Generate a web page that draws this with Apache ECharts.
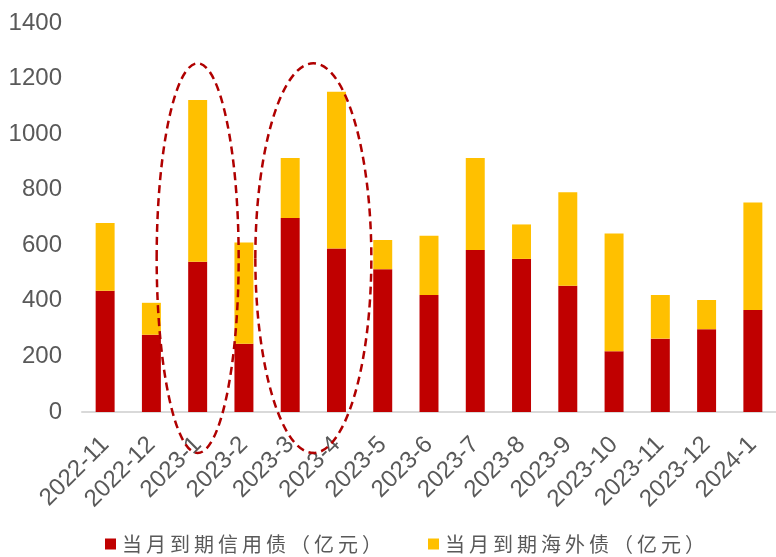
<!DOCTYPE html>
<html>
<head>
<meta charset="utf-8">
<script src="https://cdn.jsdelivr.net/npm/echarts@6/dist/echarts.min.js"></script>
<style>
  html, body { margin: 0; padding: 0; background: #ffffff; }
  #chart { width: 776px; height: 557px; }
</style>
</head>
<body>
<div id="chart"></div>
<script>
// Monthly maturities (100 million yuan)
const months = ['2022-11', '2022-12', '2023-1', '2023-2', '2023-3', '2023-4', '2023-5', '2023-6',
                '2023-7', '2023-8', '2023-9', '2023-10', '2023-11', '2023-12', '2024-1'];
const creditBonds   = [436, 278, 541, 246, 698, 588, 514, 421, 583, 551, 454, 219, 264, 298, 367];
const offshoreBonds = [244, 115, 582, 364, 216, 565, 105, 213, 331, 124, 337, 423, 157, 105, 387];
const yTicks = [0, 200, 400, 600, 800, 1000, 1200, 1400];

const seriesNames = ['当月到期信用债（亿元）', '当月到期海外债（亿元）'];

const chart = echarts.init(document.getElementById('chart'));

const option = {
  animation: false,
  backgroundColor: '#ffffff',
  grid: { left: 82, right: -6, top: 23, bottom: 145, containLabel: false },
  legend: {
    data: seriesNames,
    left: 100,
    top: 529,
    itemWidth: 11,
    itemHeight: 11,
    itemGap: 46,
    icon: 'rect',
    // spaced-out legend lettering
    formatter: name => name.split('').join('\u2009'),
    textStyle: {
      fontFamily: '"Noto Sans CJK SC", sans-serif',
      fontSize: 20,
      color: '#595959',
      padding: [0, 0, 0, 1]
    }
  },
  xAxis: {
    type: 'category',
    data: months,
    axisLine: { lineStyle: { color: '#d9d9d9', width: 2 } },
    axisTick: { alignWithLabel: false, length: 5, lineStyle: { color: '#d9d9d9', width: 2 } },
    axisLabel: {
      rotate: 45,
      interval: 0,
      margin: 29,
      color: '#595959',
      fontFamily: '"Liberation Sans", Arial, sans-serif',
      fontSize: 24
    }
  },
  yAxis: {
    type: 'value',
    min: yTicks[0],
    max: yTicks[yTicks.length - 1],
    interval: yTicks[1] - yTicks[0],
    axisLine: { show: false },
    axisTick: { show: false },
    splitLine: { show: false },
    axisLabel: {
      margin: 20,
      color: '#595959',
      fontFamily: '"Liberation Sans", Arial, sans-serif',
      fontSize: 24,
      formatter: v => String(v)
    }
  },
  series: [
    {
      name: seriesNames[0],
      type: 'bar',
      stack: 'total',
      data: creditBonds,
      barWidth: '41%',
      itemStyle: { color: '#c00000' }
    },
    {
      name: seriesNames[1],
      type: 'bar',
      stack: 'total',
      data: offshoreBonds,
      barWidth: '41%',
      itemStyle: { color: '#ffc000' }
    }
  ]
};

chart.setOption(option);

// Dashed highlight rings around the peak months, placed from the axis scales
function ring(fromCat, toCat, halfWidth) {
  const a = chart.convertToPixel({ gridIndex: 0 }, [fromCat, 0]);
  const b = chart.convertToPixel({ gridIndex: 0 }, [toCat, 0]);
  const top = chart.convertToPixel({ gridIndex: 0 }, [fromCat, 1255])[1];
  const bottom = a[1] + 41;
  return {
    type: 'ellipse',
    z: 100,
    shape: {
      cx: (a[0] + b[0]) / 2,
      cy: (top + bottom) / 2,
      rx: halfWidth,
      ry: (bottom - top) / 2
    },
    style: {
      fill: null,
      stroke: '#b00000',
      lineWidth: 2.5,
      lineDash: [8, 5]
    }
  };
}

chart.setOption({
  graphic: [
    ring('2023-1', '2023-1', 41),
    ring('2023-3', '2023-4', 58)
  ]
});
</script>
</body>
</html>
